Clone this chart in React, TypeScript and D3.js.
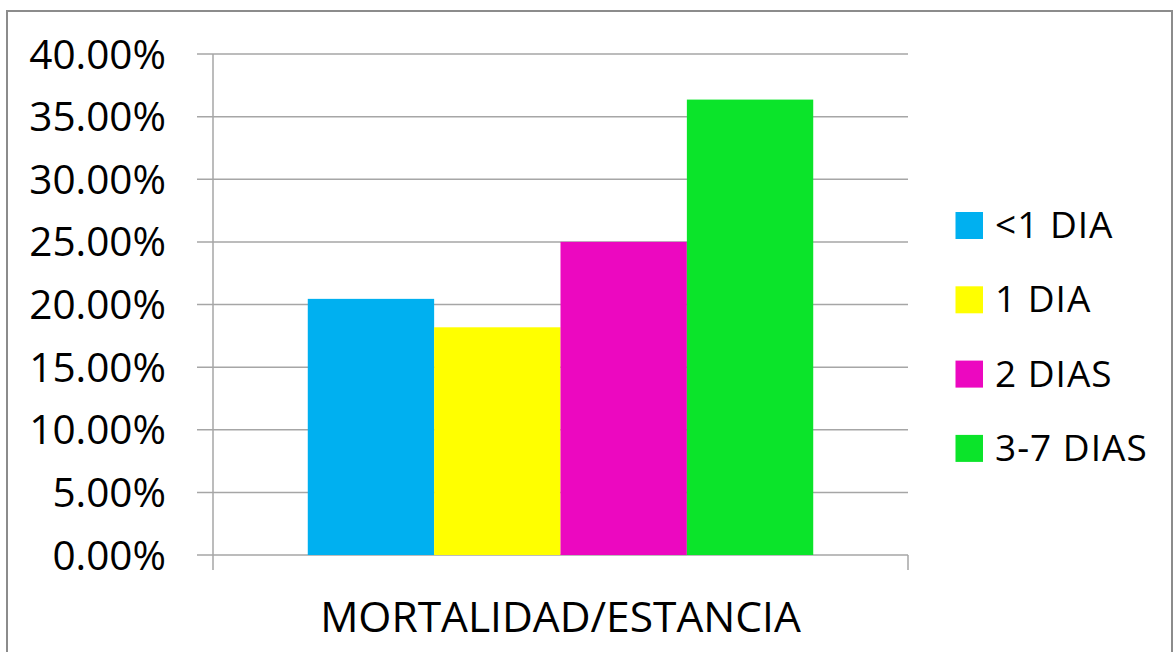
import React from "react";
import * as d3 from "d3";

// Mortality share by length of stay
const series = ["<1 DIA", "1 DIA", "2 DIAS", "3-7 DIAS"];
const values = [0.2045, 0.1818, 0.25, 0.3636];
const colors = ["#00b0f0", "#ffff00", "#ec08c0", "#0be42a"];
const category = "MORTALIDAD/ESTANCIA";
const yTicks = [0, 0.05, 0.1, 0.15, 0.2, 0.25, 0.3, 0.35, 0.4];

const W = 1174;
const H = 652;
const plot = { left: 213, right: 908, top: 54, bottom: 555 };
const FONT = "'Open Sans', 'Noto Sans', sans-serif";

export default function App() {
  const y = d3.scaleLinear().domain([0, 0.4]).range([plot.bottom, plot.top]);
  // one category; bars share the band with a 150% gap split across both sides
  const band = d3
    .scaleBand<string>()
    .domain([category])
    .range([plot.left, plot.right])
    .paddingInner(0)
    .paddingOuter(0);
  const groupW = band.bandwidth() / (1 + 1.5 / series.length);
  const x0 = (band(category) ?? 0) + (band.bandwidth() - groupW) / 2;
  const xs = d3.scaleBand<string>().domain(series).range([x0, x0 + groupW]);
  const fmt = d3.format(".2%");

  return (
    <svg
      width={W}
      height={H}
      style={{ position: "absolute", left: 0, top: 0, background: "#fff" }}
      fontFamily={FONT}
    >
      <rect x={7} y={11} width={1165} height={660} fill="#fff" stroke="#8c8c8c" strokeWidth={2} />
      {yTicks.map((t) => (
        <g key={t}>
          <line x1={197} x2={plot.right} y1={y(t)} y2={y(t)} stroke="#a6a6a6" strokeWidth={1.5} />
          <text x={166} y={y(t)} dy="0.36em" textAnchor="end" fontSize={40.5} fill="#000">
            {fmt(t)}
          </text>
        </g>
      ))}
      <line x1={plot.left} x2={plot.left} y1={plot.top} y2={plot.bottom + 15} stroke="#a6a6a6" strokeWidth={1.5} />
      <line x1={plot.right} x2={plot.right} y1={plot.bottom} y2={plot.bottom + 15} stroke="#a6a6a6" strokeWidth={1.5} />
      {series.map((s, i) => (
        <rect
          key={s}
          x={xs(s)}
          y={y(values[i])}
          width={xs.bandwidth()}
          height={y(0) - y(values[i])}
          fill={colors[i]}
        />
      ))}
      <text x={(plot.left + plot.right) / 2} y={632} textAnchor="middle" fontSize={42.5} fill="#000">
        {category}
      </text>
      {series.map((s, i) => {
        const cy = 225.5 + i * 74.3;
        return (
          <g key={s}>
            <rect x={955.5} y={cy - 13.5} width={27.5} height={27} fill={colors[i]} />
            <text x={995} y={cy + 12.5} fontSize={37} letterSpacing={1} fill="#000">
              {s}
            </text>
          </g>
        );
      })}
    </svg>
  );
}
